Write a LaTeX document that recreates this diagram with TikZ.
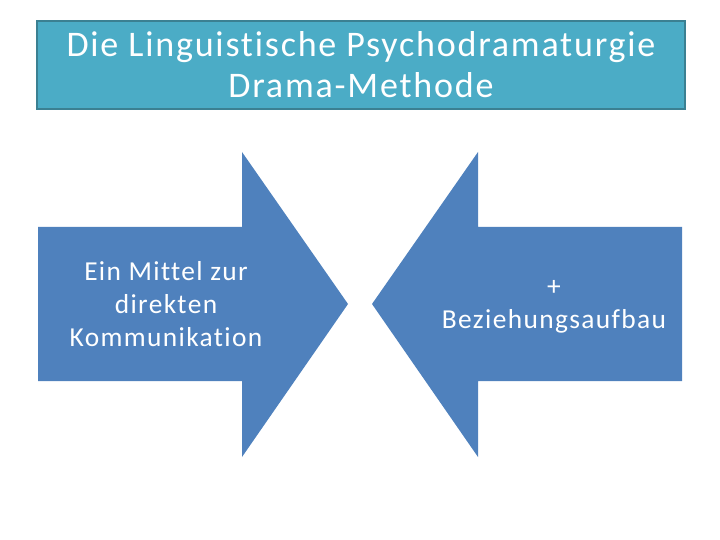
\documentclass[tikz,border=0pt]{standalone}
\usepackage{fontspec}
\setmainfont{Carlito}[Ligatures=NoCommon, LetterSpace=5]
\usetikzlibrary{calc}
\definecolor{titlefill}{HTML}{4BACC6}
\definecolor{titleline}{HTML}{3B8092}
\definecolor{arrowfill}{HTML}{4F81BD}

\begin{document}
\begin{tikzpicture}[x=1pt, y=-1pt,
		titlebox/.style={rectangle, minimum width=648pt, minimum height=88pt, line width=2.5pt, draw=titleline, fill=titlefill, text=white, align=center, font=\fontsize{36}{41}\selectfont},
		arrowtext/.style={text=white, align=center, inner sep=0pt, font=\fontsize{27.4}{33}\selectfont}]
		\useasboundingbox (0,0) rectangle (720,540);
		\node (title) [titlebox] at (361,65) {Die Linguistische Psychodramaturgie\\Drama-Methode};
		
		% Pfeil nach rechts
		\fill [arrowfill] (38,227) -- (242,227) -- (242,152) -- (348,304) -- (242,457) -- (242,381) -- (38,381) -- cycle;
		% Pfeil nach links
		\fill [arrowfill] (682,227) -- (478,227) -- (478,152) -- (372,304) -- (478,457) -- (478,381) -- (682,381) -- cycle;
		
		\node (mittel) [arrowtext] at (166,304) {Ein Mittel zur\\direkten\\Kommunikation};
		\node (aufbau) [arrowtext] at (554,307) {+\\Beziehungsaufbau};
	\end{tikzpicture}
\end{document}
